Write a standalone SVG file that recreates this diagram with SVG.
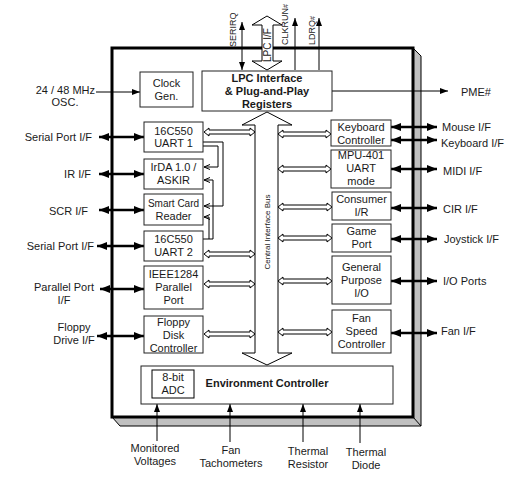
<svg xmlns="http://www.w3.org/2000/svg" width="530" height="496" viewBox="0 0 530 496">
<defs>
<style>
text{font-family:"Liberation Sans",Arial,sans-serif;font-size:11px;fill:#1a1a1a}
.b{font-weight:bold}
.m{text-anchor:middle}
.e{text-anchor:end}
.box{fill:#fff;stroke:#222;stroke-width:1}
.thin{stroke:#000;stroke-width:1;fill:none}
.thick{stroke:#000;stroke-width:2.6;fill:none}
.hol{fill:#fff;stroke:#000;stroke-width:1}
</style>
<marker id="ah" viewBox="0 0 10 8" refX="10" refY="4" markerWidth="10" markerHeight="8" markerUnits="userSpaceOnUse" orient="auto-start-reverse"><path d="M0,0L10,4L0,8z" fill="#000"/></marker>
<marker id="as" viewBox="0 0 8 6" refX="8" refY="3" markerWidth="8" markerHeight="6" markerUnits="userSpaceOnUse" orient="auto-start-reverse"><path d="M0,0L8,3L0,6z" fill="#000"/></marker>
<marker id="ao" viewBox="0 0 6 6" refX="6" refY="3" markerWidth="6" markerHeight="6" markerUnits="userSpaceOnUse" orient="auto"><path d="M0,0.5L6,3L0,5.5" fill="none" stroke="#000" stroke-width="1"/></marker>
</defs>
<rect width="530" height="496" fill="#fff"/>
<g id="chip">
<path d="M413,48L421,56L421,426L120,426L112,417L413,417z" fill="#c0c0c0" stroke="#000" stroke-width="1"/>
<path d="M413,417L421,426" class="thin"/>
<rect x="112" y="48" width="301" height="369" fill="#fff" stroke="#000" stroke-width="3"/>
</g>
<g id="connectors">
<!-- top signals -->
<line x1="242" y1="22" x2="242" y2="70" class="thin" marker-start="url(#as)" marker-end="url(#as)"/>
<line x1="295" y1="70" x2="295" y2="18" class="thin" marker-end="url(#as)"/>
<line x1="319" y1="70" x2="319" y2="18" class="thin" marker-end="url(#as)"/>
<path d="M267,16L282,25L273,25L273,61L282,61L267,70L252,61L262,61L262,25L252,25z" class="hol"/>
<!-- clock / PME -->
<line x1="96" y1="92" x2="140" y2="92" class="thin" marker-end="url(#as)"/>
<line x1="332" y1="91" x2="448" y2="91" class="thin" marker-end="url(#as)"/>
<!-- central bus -->
<path d="M267,112L292,125L278,125L278,353L292,353L267,365L242,353L255,353L255,125L242,125z" class="hol"/>
<!-- left external -->
<line x1="99" y1="137" x2="144" y2="137" class="thick" marker-start="url(#ah)" marker-end="url(#ah)"/>
<line x1="99" y1="174" x2="144" y2="174" class="thick" marker-start="url(#ah)" marker-end="url(#ah)"/>
<line x1="99" y1="210" x2="144" y2="210" class="thick" marker-start="url(#ah)" marker-end="url(#ah)"/>
<line x1="97" y1="246" x2="144" y2="246" class="thick" marker-start="url(#ah)" marker-end="url(#ah)"/>
<line x1="100" y1="289" x2="144" y2="289" class="thick" marker-start="url(#ah)" marker-end="url(#ah)"/>
<line x1="97" y1="336" x2="144" y2="336" class="thick" marker-start="url(#ah)" marker-end="url(#ah)"/>
<!-- right external -->
<line x1="391" y1="127" x2="437" y2="127" class="thick" marker-start="url(#ah)" marker-end="url(#ah)"/>
<line x1="391" y1="140" x2="437" y2="140" class="thick" marker-start="url(#ah)" marker-end="url(#ah)"/>
<line x1="391" y1="169" x2="437" y2="169" class="thick" marker-start="url(#ah)" marker-end="url(#ah)"/>
<line x1="391" y1="208" x2="437" y2="208" class="thick" marker-start="url(#ah)" marker-end="url(#ah)"/>
<line x1="391" y1="239" x2="437" y2="239" class="thick" marker-start="url(#ah)" marker-end="url(#ah)"/>
<line x1="391" y1="281" x2="437" y2="281" class="thick" marker-start="url(#ah)" marker-end="url(#ah)"/>
<line x1="391" y1="333" x2="437" y2="333" class="thick" marker-start="url(#ah)" marker-end="url(#ah)"/>
<!-- bus taps left -->
<path d="M204,132L209,128L209,130L250,130L250,128L255,132L250,136L250,134L209,134L209,136z" class="hol"/>
<path d="M204,254L209,250L209,252L250,252L250,250L255,254L250,258L250,256L209,256L209,258z" class="hol"/>
<path d="M204,284L209,280L209,282L250,282L250,280L255,284L250,288L250,286L209,286L209,288z" class="hol"/>
<path d="M204,334L209,330L209,332L250,332L250,330L255,334L250,338L250,336L209,336L209,338z" class="hol"/>
<!-- bus taps right -->
<path d="M278,134L283,130L283,132L326,132L326,130L331,134L326,138L326,136L283,136L283,138z" class="hol"/>
<path d="M278,169L283,165L283,167L326,167L326,165L331,169L326,173L326,171L283,171L283,173z" class="hol"/>
<path d="M278,207L283,203L283,205L327,205L327,203L332,207L327,211L327,209L283,209L283,211z" class="hol"/>
<path d="M278,238L283,234L283,236L327,236L327,234L332,238L327,242L327,240L283,240L283,242z" class="hol"/>
<path d="M278,281L283,277L283,279L327,279L327,277L332,281L327,285L327,283L283,283L283,285z" class="hol"/>
<path d="M278,332L283,328L283,330L327,330L327,328L332,332L327,336L327,334L283,334L283,336z" class="hol"/>
<!-- UART internal routing -->
<path d="M203,142L223,142L223,206L204,206" class="thin" marker-end="url(#ao)"/>
<path d="M203,146L218,146L218,167L204,167" class="thin" marker-end="url(#ao)"/>
<path d="M203,239L213,239L213,180L204,180" class="thin" marker-end="url(#ao)"/>
<path d="M209,239L209,217L204,217" class="thin" marker-end="url(#ao)"/>
<!-- bottom inputs -->
<line x1="157" y1="441" x2="157" y2="404" class="thin" marker-end="url(#as)"/>
<line x1="230" y1="442" x2="230" y2="404" class="thin" marker-end="url(#as)"/>
<line x1="303" y1="442" x2="303" y2="404" class="thin" marker-end="url(#as)"/>
<line x1="360" y1="443" x2="360" y2="404" class="thin" marker-end="url(#as)"/>
</g>
<g id="lpc"><rect x="202" y="71" width="130" height="40" class="box"/>
<text class="b m" x="267" y="82">LPC Interface</text><text class="b m" x="267" y="95">&amp; Plug-and-Play</text><text class="b m" x="267" y="108">Registers</text></g>
<g id="clock"><rect x="140" y="72" width="53" height="35" class="box"/>
<text class="m" x="166.5" y="87">Clock</text><text class="m" x="166.5" y="100">Gen.</text></g>
<g id="uart1"><rect x="144" y="122" width="59" height="30" class="box"/>
<text class="m" x="173.5" y="135">16C550</text><text class="m" x="173.5" y="147">UART 1</text></g>
<g id="irda"><rect x="144" y="159" width="59" height="30" class="box"/>
<text class="m" x="173.5" y="171">IrDA 1.0 /</text><text class="m" x="173.5" y="184">ASKIR</text></g>
<g id="smartcard"><rect x="144" y="194" width="59" height="31" class="box"/>
<text class="m" x="173.5" y="207" style="font-size:10px">Smart Card</text><text class="m" x="173.5" y="220">Reader</text></g>
<g id="uart2"><rect x="144" y="231" width="59" height="30" class="box"/>
<text class="m" x="173.5" y="243">16C550</text><text class="m" x="173.5" y="256">UART 2</text></g>
<g id="parallel"><rect x="144" y="266" width="59" height="43" class="box"/>
<text class="m" x="173.5" y="278">IEEE1284</text><text class="m" x="173.5" y="291">Parallel</text><text class="m" x="173.5" y="304">Port</text></g>
<g id="floppy"><rect x="144" y="316" width="59" height="37" class="box"/>
<text class="m" x="173.5" y="326">Floppy</text><text class="m" x="173.5" y="339">Disk</text><text class="m" x="173.5" y="352">Controller</text></g>
<g id="keyboard"><rect x="331" y="120" width="60" height="26" class="box"/>
<text class="m" x="361" y="131">Keyboard</text><text class="m" x="361" y="144">Controller</text></g>
<g id="mpu"><rect x="331" y="150" width="60" height="38" class="box"/>
<text class="m" x="361" y="159">MPU-401</text><text class="m" x="361" y="172">UART</text><text class="m" x="361" y="185">mode</text></g>
<g id="consumer"><rect x="332" y="192" width="59" height="28" class="box"/>
<text class="m" x="361.5" y="203">Consumer</text><text class="m" x="361.5" y="216">I/R</text></g>
<g id="game"><rect x="332" y="224" width="59" height="28" class="box"/>
<text class="m" x="361.5" y="235">Game</text><text class="m" x="361.5" y="248">Port</text></g>
<g id="gpio"><rect x="332" y="256" width="59" height="48" class="box"/>
<text class="m" x="361.5" y="271">General</text><text class="m" x="361.5" y="284">Purpose</text><text class="m" x="361.5" y="297">I/O</text></g>
<g id="fanspeed"><rect x="332" y="310" width="59" height="43" class="box"/>
<text class="m" x="361.5" y="322">Fan</text><text class="m" x="361.5" y="335">Speed</text><text class="m" x="361.5" y="348">Controller</text></g>
<g id="env"><rect x="141" y="366" width="252" height="38" class="box"/>
<text class="b m" x="267" y="387">Environment Controller</text></g>
<g id="adc"><rect x="152" y="370" width="42" height="28" fill="#fff" stroke="#000" stroke-width="1"/>
<text class="m" x="173" y="381">8-bit</text><text class="m" x="173" y="394">ADC</text></g>
<g id="labels">
<text transform="translate(236,47) rotate(-90)" style="font-size:9px">SERIRQ</text>
<text transform="translate(271,45) rotate(-90)" class="m" style="font-size:10px">LPC I/F</text>
<text transform="translate(288,45) rotate(-90)" style="font-size:9px">CLKRUN<tspan style="font-size:7px">#</tspan></text>
<text transform="translate(315,45) rotate(-90)" style="font-size:9px">LDRQ<tspan style="font-size:7px">#</tspan></text>
<text transform="translate(270,232) rotate(-90)" class="m" style="font-size:8px">Central Interface Bus</text>
<text class="e" x="95" y="94">24 / 48 MHz</text><text class="m" x="65" y="106">OSC.</text>
<text x="461" y="96">PME#</text>
<text class="e" x="92" y="141">Serial Port I/F</text>
<text class="e" x="91" y="178">IR I/F</text>
<text class="e" x="88" y="215">SCR I/F</text>
<text class="e" x="94" y="250">Serial Port I/F</text>
<text class="m" x="64" y="291">Parallel Port</text><text class="m" x="64" y="304">I/F</text>
<text class="m" x="74" y="331">Floppy</text><text class="m" x="74" y="344">Drive I/F</text>
<text x="442" y="131">Mouse I/F</text>
<text x="441" y="147">Keyboard I/F</text>
<text x="443" y="175">MIDI I/F</text>
<text x="443" y="213">CIR I/F</text>
<text x="444" y="243">Joystick I/F</text>
<text x="443" y="285">I/O Ports</text>
<text x="441" y="335">Fan I/F</text>
<text class="m" x="155" y="452">Monitored</text><text class="m" x="155" y="465">Voltages</text>
<text class="m" x="231" y="454">Fan</text><text class="m" x="231" y="467">Tachometers</text>
<text class="m" x="308" y="455">Thermal</text><text class="m" x="308" y="468">Resistor</text>
<text class="m" x="366" y="456">Thermal</text><text class="m" x="366" y="469">Diode</text>
</g>
</svg>
